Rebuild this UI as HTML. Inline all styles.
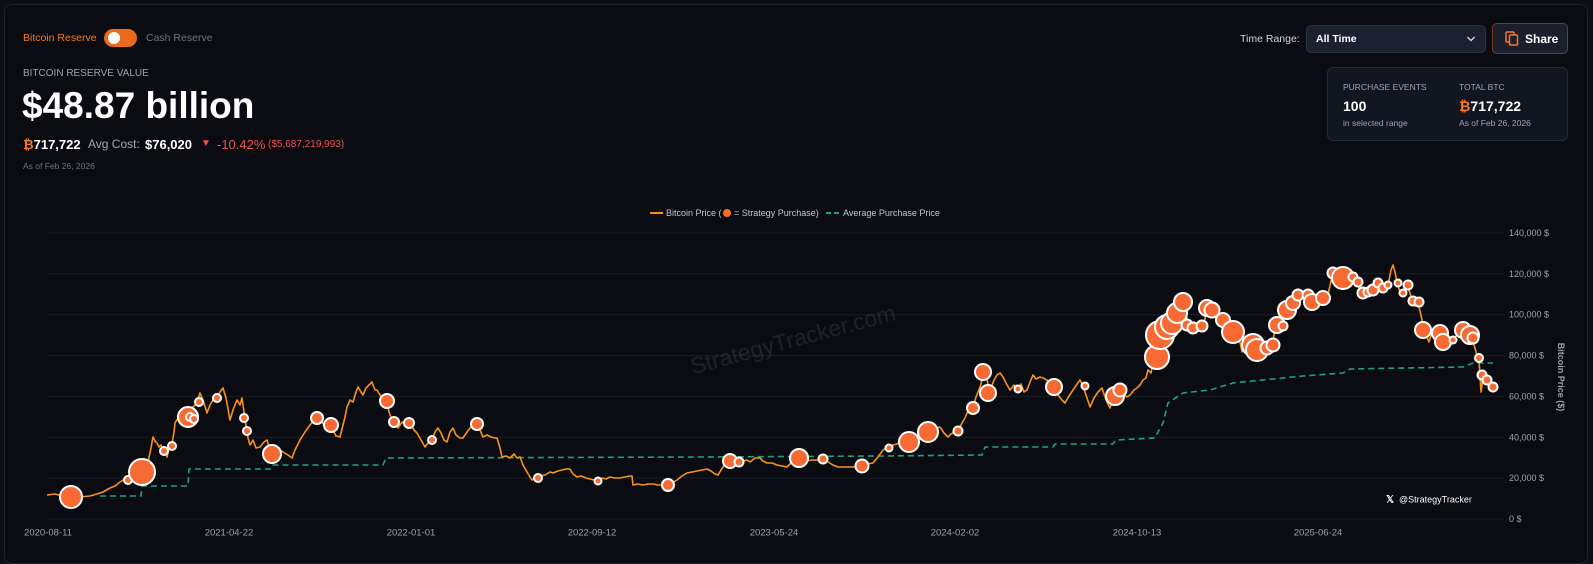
<!DOCTYPE html>
<html><head><meta charset="utf-8">
<style>
*{margin:0;padding:0;box-sizing:border-box}
html,body{width:1593px;height:544px;overflow:hidden;background:#0d0f15;font-family:"Liberation Sans",Arial,sans-serif}
.panel{position:absolute;left:4px;top:4px;width:1584px;height:560px;background:#0a0c12;border:1px solid #1f232c;border-radius:8px}
.t{position:absolute;white-space:nowrap;line-height:1}
</style></head><body>
<div class="panel"></div>

<div class="t" style="left:23px;top:33px;font-size:10.5px;color:#f47a2e">Bitcoin Reserve</div>
<div style="position:absolute;left:104px;top:29px;width:33px;height:18px;border-radius:9px;background:#ea6a1d"></div>
<div style="position:absolute;left:108px;top:32px;width:12px;height:12px;border-radius:6px;background:#fff"></div>
<div class="t" style="left:146px;top:33px;font-size:10.5px;color:#6b7280">Cash Reserve</div>

<div class="t" style="left:23px;top:69px;font-size:10px;color:#9ca3af">BITCOIN RESERVE VALUE</div>
<div class="t" style="left:22px;top:87px;font-size:37px;font-weight:bold;color:#fff">$48.87 billion</div>

<div class="t" style="left:23px;top:138px;font-size:13px;font-weight:bold;color:#fff"><span style="color:#f47a2e">₿</span>717,722</div>
<div class="t" style="left:88px;top:138px;font-size:12px;color:#a3a9b3">Avg Cost:</div>
<div class="t" style="left:145px;top:138px;font-size:13px;font-weight:bold;color:#fff">$76,020</div>
<div class="t" style="left:201px;top:139px;font-size:10px;color:#f05252">▼</div>
<div class="t" style="left:217px;top:138px;font-size:13px;color:#f05252">-10.42%</div>
<div class="t" style="left:268px;top:140px;font-size:10px;color:#f05252">($5,687,219,993)</div>
<div class="t" style="left:23px;top:162px;font-size:8.5px;color:#6b7280">As of Feb 26, 2026</div>

<div class="t" style="left:1240px;top:34px;font-size:10.5px;color:#d1d5db">Time Range:</div>
<div style="position:absolute;left:1306px;top:25px;width:180px;height:28px;background:#1b2130;border:1px solid #2a3242;border-radius:5px"></div>
<div class="t" style="left:1316px;top:34px;font-size:10.5px;font-weight:bold;color:#fff">All Time</div>
<svg style="position:absolute;left:1466px;top:35px" width="10" height="8"><path d="M1.5 2 L5 5.5 L8.5 2" stroke="#d1d5db" stroke-width="1.4" fill="none"/></svg>

<div style="position:absolute;left:1492px;top:23px;width:76px;height:31px;background:#1a1f2b;border:1px solid #7a3a1c;border-radius:5px"></div>
<svg style="position:absolute;left:1505px;top:31px" width="14" height="15"><rect x="1" y="1" width="8" height="10" rx="1" fill="none" stroke="#f07a2e" stroke-width="1.5"/><rect x="4.5" y="4" width="8" height="10" rx="1" fill="#1a1f2b" stroke="#f07a2e" stroke-width="1.5"/></svg>
<div class="t" style="left:1525px;top:33px;font-size:12px;font-weight:bold;color:#fff">Share</div>

<div style="position:absolute;left:1327px;top:67px;width:241px;height:74px;background:#111621;border:1px solid #232a37;border-radius:6px"></div>
<div class="t" style="left:1343px;top:83px;font-size:8.5px;color:#9ca3af">PURCHASE EVENTS</div>
<div class="t" style="left:1343px;top:99px;font-size:14px;font-weight:bold;color:#fff">100</div>
<div class="t" style="left:1343px;top:119px;font-size:8.5px;color:#9ca3af">in selected range</div>
<div class="t" style="left:1459px;top:83px;font-size:8.5px;color:#9ca3af">TOTAL BTC</div>
<div class="t" style="left:1459px;top:99px;font-size:14px;font-weight:bold;color:#fff"><span style="color:#f47a2e">₿</span>717,722</div>
<div class="t" style="left:1459px;top:119px;font-size:8.5px;color:#9ca3af">As of Feb 26, 2026</div>

<svg style="position:absolute;left:0;top:0" width="1593" height="544" viewBox="0 0 1593 544" font-family="Liberation Sans, Arial, sans-serif">
<g stroke="#181c25" stroke-width="1">
<line x1="48" y1="519" x2="1504" y2="519"/>
<line x1="48" y1="478.1" x2="1504" y2="478.1"/>
<line x1="48" y1="437.3" x2="1504" y2="437.3"/>
<line x1="48" y1="396.4" x2="1504" y2="396.4"/>
<line x1="48" y1="355.6" x2="1504" y2="355.6"/>
<line x1="48" y1="314.7" x2="1504" y2="314.7"/>
<line x1="48" y1="273.8" x2="1504" y2="273.8"/>
<line x1="48" y1="233" x2="1504" y2="233"/>
</g>
<g font-size="9" fill="#9ca3af">
<text x="1509" y="522">0 $</text>
<text x="1509" y="481.1">20,000 $</text>
<text x="1509" y="440.3">40,000 $</text>
<text x="1509" y="399.4">60,000 $</text>
<text x="1509" y="358.6">80,000 $</text>
<text x="1509" y="317.7">100,000 $</text>
<text x="1509" y="276.8">120,000 $</text>
<text x="1509" y="236">140,000 $</text>
</g>
<text transform="translate(1558,377) rotate(90)" text-anchor="middle" font-size="9" font-weight="bold" fill="#9ca3af">Bitcoin Price ($)</text>
<g font-size="9.5" fill="#9ca3af" text-anchor="middle">
<text x="48" y="535.5">2020-08-11</text>
<text x="229" y="535.5">2021-04-22</text>
<text x="411" y="535.5">2022-01-01</text>
<text x="592" y="535.5">2022-09-12</text>
<text x="774" y="535.5">2023-05-24</text>
<text x="955" y="535.5">2024-02-02</text>
<text x="1137" y="535.5">2024-10-13</text>
<text x="1318" y="535.5">2025-06-24</text>
</g>
<!-- legend -->
<line x1="650" y1="213" x2="663" y2="213" stroke="#f7931a" stroke-width="2"/>
<text x="666" y="216" font-size="9" fill="#c4c8cf">Bitcoin Price (</text>
<circle cx="727" cy="213" r="4" fill="#ff6a28"/>
<text x="734" y="216" font-size="9" fill="#c4c8cf">= Strategy Purchase)</text>
<line x1="826" y1="213" x2="840" y2="213" stroke="#1fa37a" stroke-width="2" stroke-dasharray="5 3"/>
<text x="843" y="216" font-size="9" fill="#c4c8cf">Average Purchase Price</text>
<!-- watermark -->
<text transform="translate(795,347) rotate(-15)" text-anchor="middle" font-size="23" fill="#ffffff" fill-opacity="0.09">StrategyTracker.com</text>
<!-- avg line -->
<path d="M100,496 L141,496 L142,486 L188,486 L189,469 L270,469 L272,465 L383,465 L386,458 L700,457 L883,456 L982,455 L985,447 L1053,447 L1055,444 L1113,444 L1116,440 L1155,438 L1163,423 L1168,403 L1183,393 L1210,390 L1233,383 L1263,380 L1303,376 L1343,373 L1350,369 L1463,367 L1473,363 L1493,363" fill="none" stroke="#1fa37a" stroke-width="1.6" stroke-dasharray="6 4"/>
<!-- price line -->
<polyline fill="none" stroke="#f7931a" stroke-width="1.6" stroke-linejoin="round" points="47,495 55,494 62,496 70,497 80,497 90,496 97,494 103,492 110,488 115,486 120,482 125,479 130,476 135,474 140,470 145,466 148,462 151,448 153,437 155,441 157,443 159,447 161,445 163,450 165,452 167,457 169,448 170,445 172,444 174,432 175,423 178,418 180,413 184,410 188,414 192,408 196,404 200,393 203,400 207,413 210,405 213,400 217,397 220,392 223,388 226,398 230,420 233,410 237,400 240,405 242,398 244,412 246,425 248,438 250,445 253,440 256,448 260,447 264,442 267,440 270,450 275,452 280,450 283,452 288,455 292,458 295,450 300,440 305,432 310,425 314,420 318,418 322,422 326,428 330,425 333,430 336,436 340,437 343,425 345,417 347,407 350,400 353,402 356,392 358,387 361,392 363,395 366,388 369,385 372,382 375,390 377,390 380,395 384,401 387,405 390,415 394,422 398,428 402,422 406,425 410,423 414,430 417,433 421,440 425,447 428,443 432,440 435,432 438,428 441,433 444,440 447,442 450,432 453,428 456,435 460,438 463,438 467,432 470,428 474,425 477,424 480,430 483,437 487,435 491,437 495,438 497,438 500,448 502,457 506,456 510,458 514,454 517,458 520,457 523,465 527,472 530,477 532,480 535,478 540,476 545,475 550,472 553,473 558,471 562,470 566,469 570,469 573,474 577,477 581,476 586,478 590,479 594,480 598,481 602,478 606,479 610,477 615,478 620,478 625,477 630,476 632,476 633,485 638,484 643,485 648,484 653,484 658,485 663,485 668,485 672,483 677,480 682,476 687,473 692,472 697,471 702,470 707,469 711,471 715,474 718,475 721,470 723,467 727,462 730,461 735,461 739,462 743,461 747,460 750,462 755,458 760,458 763,461 767,463 772,463 777,465 782,466 787,467 792,462 797,458 802,460 807,461 812,460 818,460 823,459 828,462 833,465 838,467 843,467 848,467 853,467 857,466 862,466 867,464 873,463 878,457 883,450 886,448 889,448 893,445 897,444 901,441 905,440 909,442 913,438 917,435 921,433 925,432 928,432 932,430 936,428 940,427 944,433 948,437 951,434 955,432 958,431 962,423 965,418 967,413 970,410 973,408 976,397 980,387 983,377 986,372 988,385 991,388 994,380 997,375 1000,373 1003,377 1006,383 1010,390 1014,385 1018,389 1021,384 1024,392 1027,390 1030,382 1033,375 1036,379 1040,377 1043,378 1047,380 1051,385 1054,387 1058,395 1062,400 1065,403 1069,396 1073,390 1077,384 1080,380 1083,386 1086,395 1090,407 1094,398 1098,392 1102,388 1106,400 1110,408 1113,400 1116,396 1120,390 1124,394 1127,397 1130,395 1134,390 1137,388 1140,385 1143,380 1146,378 1148,370 1151,373 1153,363 1156,357 1158,345 1161,333 1164,325 1167,318 1170,320 1173,315 1176,312 1179,305 1182,300 1185,310 1188,322 1191,328 1194,322 1197,325 1200,330 1203,326 1206,315 1209,312 1212,308 1215,310 1219,315 1222,318 1226,325 1229,330 1232,333 1235,336 1238,332 1240,342 1242,352 1245,345 1248,345 1251,350 1254,346 1257,352 1260,348 1263,346 1266,347 1269,343 1272,345 1275,330 1278,325 1281,326 1284,318 1287,310 1290,306 1293,303 1296,300 1299,296 1302,298 1305,294 1308,296 1311,303 1314,300 1317,303 1320,298 1323,297 1326,302 1329,290 1332,276 1335,272 1338,275 1341,278 1344,277 1347,273 1350,278 1353,281 1356,282 1359,288 1362,293 1365,296 1368,292 1371,290 1374,289 1377,284 1380,287 1383,289 1386,290 1389,280 1391,270 1393,265 1395,272 1397,282 1400,292 1403,295 1406,288 1409,290 1412,300 1415,306 1418,303 1421,315 1423,325 1426,335 1429,342 1432,332 1435,335 1438,331 1441,335 1444,342 1447,345 1450,340 1453,340 1456,336 1459,332 1462,328 1465,330 1468,333 1471,336 1474,345 1477,355 1479,360 1481,392 1483,378 1485,375 1487,381 1489,383 1491,386 1494,389"/>
<!-- purchases -->
<g fill="#f76a33" stroke="#ffffff" stroke-width="2">
<circle cx="71" cy="497" r="11"/>
<circle cx="128" cy="480" r="4"/>
<circle cx="142" cy="472" r="13"/>
<circle cx="164" cy="451" r="4"/>
<circle cx="172" cy="446" r="4"/>
<circle cx="188" cy="417" r="10"/>
<circle cx="190" cy="417" r="4"/>
<circle cx="194" cy="419" r="4"/>
<circle cx="199" cy="402" r="4"/>
<circle cx="217" cy="398" r="4"/>
<circle cx="244" cy="418" r="4"/>
<circle cx="247" cy="431" r="4"/>
<circle cx="272" cy="454" r="9"/>
<circle cx="317" cy="418" r="6"/>
<circle cx="331" cy="425" r="7"/>
<circle cx="387" cy="401" r="7"/>
<circle cx="394" cy="422" r="5"/>
<circle cx="409" cy="423" r="5"/>
<circle cx="432" cy="440" r="4"/>
<circle cx="477" cy="424" r="6"/>
<circle cx="538" cy="478" r="4"/>
<circle cx="598" cy="481" r="3.5"/>
<circle cx="668" cy="485" r="6"/>
<circle cx="730" cy="461" r="7"/>
<circle cx="739" cy="462" r="4.5"/>
<circle cx="799" cy="458" r="9"/>
<circle cx="823" cy="459" r="4.5"/>
<circle cx="862" cy="466" r="6.5"/>
<circle cx="889" cy="448" r="3.5"/>
<circle cx="909" cy="442" r="10"/>
<circle cx="928" cy="432" r="10"/>
<circle cx="958" cy="431" r="4.5"/>
<circle cx="973" cy="408" r="6"/>
<circle cx="983" cy="372" r="8"/>
<circle cx="988" cy="393" r="8"/>
<circle cx="1018" cy="389" r="3.5"/>
<circle cx="1054" cy="387" r="8"/>
<circle cx="1085" cy="386" r="3.5"/>
<circle cx="1115" cy="396" r="9"/>
<circle cx="1120" cy="390" r="6.5"/>
<circle cx="1157" cy="357" r="12"/>
<circle cx="1160" cy="335" r="14"/>
<circle cx="1167" cy="327" r="12"/>
<circle cx="1172" cy="323" r="11"/>
<circle cx="1177" cy="313" r="10"/>
<circle cx="1183" cy="302" r="9"/>
<circle cx="1187" cy="325" r="5.5"/>
<circle cx="1193" cy="328" r="5.5"/>
<circle cx="1202" cy="326" r="5.5"/>
<circle cx="1207" cy="308" r="8"/>
<circle cx="1212" cy="310" r="7.5"/>
<circle cx="1223" cy="320" r="7"/>
<circle cx="1233" cy="332" r="11"/>
<circle cx="1253" cy="345" r="11"/>
<circle cx="1257" cy="350" r="11"/>
<circle cx="1267" cy="348" r="6.5"/>
<circle cx="1273" cy="345" r="6.5"/>
<circle cx="1277" cy="325" r="8"/>
<circle cx="1283" cy="326" r="4.5"/>
<circle cx="1287" cy="310" r="9"/>
<circle cx="1293" cy="303" r="7"/>
<circle cx="1298" cy="295" r="5.5"/>
<circle cx="1308" cy="295" r="5.5"/>
<circle cx="1312" cy="302" r="8"/>
<circle cx="1323" cy="298" r="7"/>
<circle cx="1333" cy="273" r="5.5"/>
<circle cx="1343" cy="278" r="11"/>
<circle cx="1353" cy="277" r="4.5"/>
<circle cx="1358" cy="282" r="4.5"/>
<circle cx="1363" cy="293" r="5.5"/>
<circle cx="1368" cy="292" r="4.5"/>
<circle cx="1373" cy="290" r="5.5"/>
<circle cx="1378" cy="283" r="4.5"/>
<circle cx="1383" cy="288" r="4.5"/>
<circle cx="1388" cy="285" r="3.5"/>
<circle cx="1398" cy="283" r="3.5"/>
<circle cx="1403" cy="293" r="3.5"/>
<circle cx="1408" cy="285" r="4.5"/>
<circle cx="1413" cy="301" r="4.5"/>
<circle cx="1419" cy="302" r="4.5"/>
<circle cx="1423" cy="330" r="8"/>
<circle cx="1440" cy="333" r="8"/>
<circle cx="1443" cy="342" r="8"/>
<circle cx="1453" cy="340" r="3.5"/>
<circle cx="1463" cy="330" r="8"/>
<circle cx="1470" cy="335" r="9"/>
<circle cx="1473" cy="338" r="5.5"/>
<circle cx="1479" cy="358" r="4"/>
<circle cx="1482" cy="375" r="4.5"/>
<circle cx="1487" cy="380" r="4.5"/>
<circle cx="1493" cy="387" r="4.5"/>
</g>
<!-- X handle -->
<text x="1386" y="502.5" font-size="10" font-weight="bold" fill="#ffffff">𝕏</text>
<text x="1399" y="502.5" font-size="9" fill="#ffffff">@StrategyTracker</text>
</svg>
</body></html>
